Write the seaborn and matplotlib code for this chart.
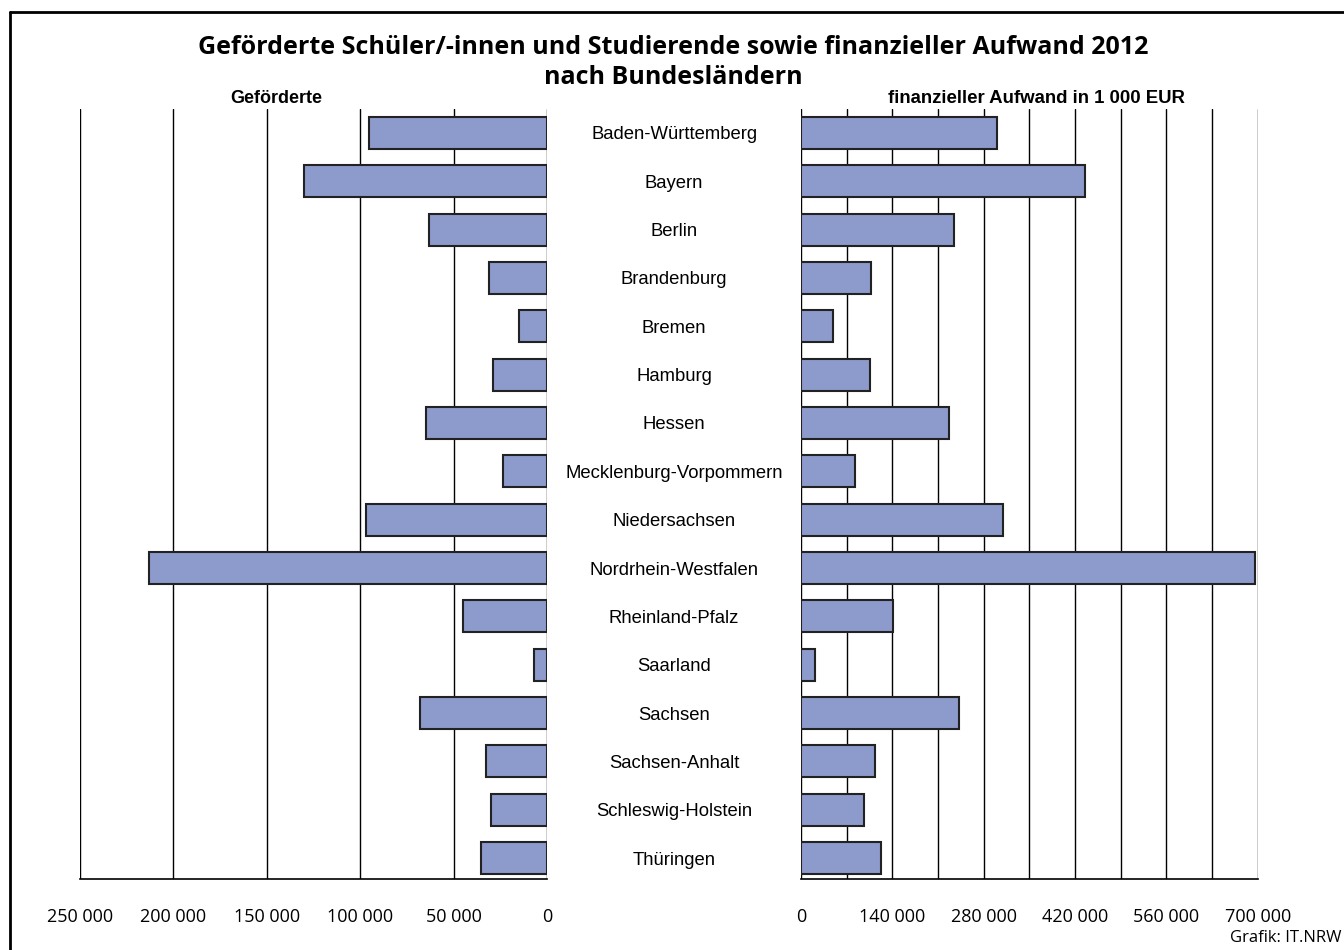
import matplotlib
matplotlib.use("Agg")
import matplotlib.pyplot as plt
from matplotlib.lines import Line2D
from matplotlib.ticker import FuncFormatter, MultipleLocator
import seaborn as sns
import pandas as pd

# Daten
laender = ["Baden-Württemberg", "Bayern", "Berlin", "Brandenburg", "Bremen",
           "Hamburg", "Hessen", "Mecklenburg-Vorpommern", "Niedersachsen",
           "Nordrhein-Westfalen", "Rheinland-Pfalz", "Saarland", "Sachsen",
           "Sachsen-Anhalt", "Schleswig-Holstein", "Thüringen"]
gefoerderte = [95300, 130100, 63200, 31000, 15000, 28900, 64800, 23600,
               96900, 213300, 45000, 7000, 68000, 32700, 30000, 35300]
aufwand = [300400, 435000, 234500, 107300, 49000, 105800, 226900, 82800,
           309600, 695900, 141000, 21500, 242000, 113400, 96600, 122300]

df = pd.DataFrame({"Land": laender, "Gefoerderte": gefoerderte, "Aufwand": aufwand})

sns.set_style("white")
plt.rcParams['font.family'] = ['Liberation Sans', 'DejaVu Sans']
plt.rcParams['text.color'] = 'black'
plt.rcParams['xtick.color'] = 'black'
plt.rcParams['ytick.color'] = 'black'
plt.rcParams['xtick.labelcolor'] = 'black'
plt.rcParams['ytick.labelcolor'] = 'black'

bar_farbe = "#8c9acc"
W, H = 1344, 950
fig = plt.figure(figsize=(W / 100, H / 100), dpi=100)

def fx(px):
    return px / W

def fy(py):
    return 1 - py / H

def tausender(v, pos):
    return f"{int(round(v)):,}".replace(",", " ")

y_oben, y_unten = 108.8, 879
ax1 = fig.add_axes([fx(80), fy(y_unten), fx(547 - 80), (y_unten - y_oben) / H])
ax2 = fig.add_axes([fx(801), fy(y_unten), fx(1257.7 - 801), (y_unten - y_oben) / H])

sns.barplot(data=df, x="Gefoerderte", y="Land", orient="h", color=bar_farbe,
            edgecolor="#222222", linewidth=1.5, width=0.66, saturation=1, ax=ax1)
sns.barplot(data=df, x="Aufwand", y="Land", orient="h", color=bar_farbe,
            edgecolor="#222222", linewidth=1.5, width=0.66, saturation=1, ax=ax2)

for ax in (ax1, ax2):
    ax.set_ylim(15.434, -0.5)
    ax.set_xlabel("")
    ax.set_ylabel("")
    ax.grid(axis="x", which="both", color="black", linewidth=1)
    ax.set_axisbelow(True)
    for s in ("top", "left", "right"):
        ax.spines[s].set_visible(False)
    ax.spines["bottom"].set_color("black")
    ax.spines["bottom"].set_linewidth(1.2)
    ax.tick_params(axis="x", which="both", direction="out", length=8, width=1.2,
                   color="black", labelsize=13, pad=13)
    ax.xaxis.set_major_formatter(FuncFormatter(tausender))

# linke Seite: Geförderte
ax1.set_xlim(250000, 0)
ax1.xaxis.set_major_locator(MultipleLocator(50000))
ax1.yaxis.tick_right()
ax1.set_yticks(range(len(laender)))
ax1.set_yticklabels(laender, fontsize=13.3, ha="center")
ax1.tick_params(axis="y", length=0, pad=91.5)

# rechte Seite: Aufwand
ax2.set_xlim(0, 700000)
ax2.xaxis.set_major_locator(MultipleLocator(140000))
ax2.xaxis.set_minor_locator(MultipleLocator(70000))
ax2.set_yticks([])
for ax in (ax1, ax2):
    for lab in ax.get_xticklabels():
        lab.set_fontfamily("Open Sans")

fig.text(fx(276), fy(103), "Geförderte", ha="center", va="baseline",
         fontsize=13, fontweight="bold")
fig.text(fx(1036), fy(103), "finanzieller Aufwand in 1 000 EUR", ha="center",
         va="baseline", fontsize=13.4, fontweight="bold")

fig.text(fx(673), fy(54), "Geförderte Schüler/-innen und Studierende sowie finanzieller Aufwand 2012",
         ha="center", va="baseline", fontsize=18, fontweight="bold", family="Open Sans")
fig.text(fx(673), fy(84), "nach Bundesländern", ha="center", va="baseline",
         fontsize=18, fontweight="bold", family="Open Sans")

fig.text(fx(1341), fy(942), "Grafik: IT.NRW", ha="right", va="baseline",
         fontsize=12, family="Open Sans")

# Rahmen
fig.add_artist(Line2D([fx(10), fx(10)], [fy(12), 0], color="black", linewidth=2))
fig.add_artist(Line2D([fx(10), 1], [fy(12), fy(12)], color="black", linewidth=2))

fig.savefig("out.png", dpi=100)
